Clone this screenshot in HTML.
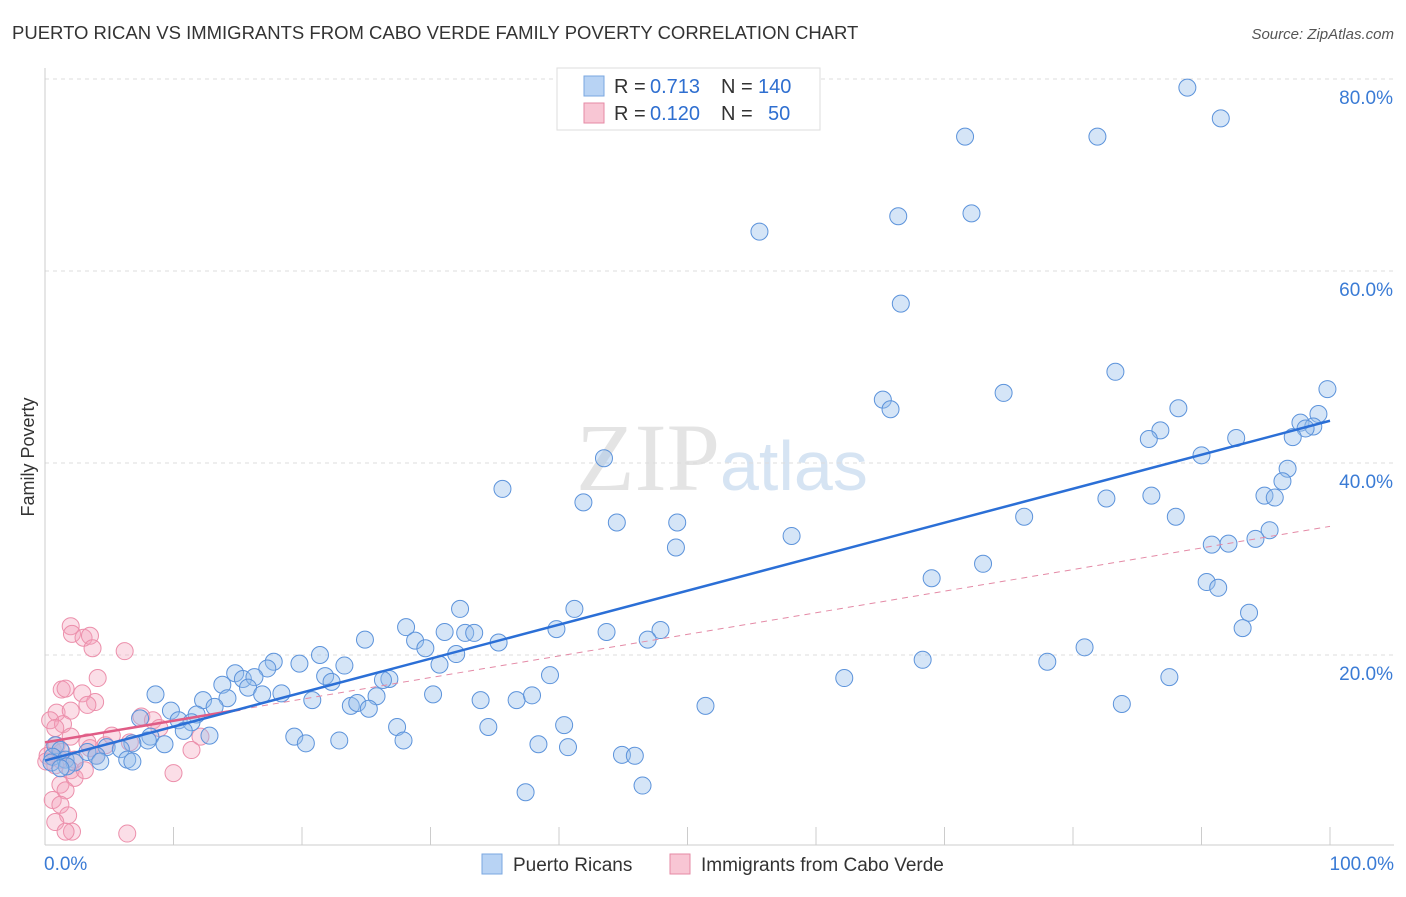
<!DOCTYPE html>
<html><head><meta charset="utf-8"><style>
body{margin:0;background:#fff;font-family:"Liberation Sans",sans-serif;}
svg text{font-family:"Liberation Sans",sans-serif;}
</style></head><body>
<svg width="1406" height="892" xmlns="http://www.w3.org/2000/svg">
<text x="12" y="39" font-size="18.5" fill="#333">PUERTO RICAN VS IMMIGRANTS FROM CABO VERDE FAMILY POVERTY CORRELATION CHART</text>
<text x="1394" y="39" font-size="15" fill="#555" font-style="italic" text-anchor="end">Source: ZipAtlas.com</text>
<text x="720" y="490" font-size="96" fill="#e4e4e4" text-anchor="end" style="font-family:'Liberation Serif',serif">ZIP</text>
<text x="720" y="490" font-size="70" fill="#d6e4f3">atlas</text>
<g id="grid"></g>
<g id="axes"></g>
<g id="pink"></g>
<g id="blue"></g>
<g id="trends"></g>
<text x="34" y="457" font-size="18" fill="#333" text-anchor="middle" transform="rotate(-90 34 457)">Family Poverty</text>
<g>
<rect x="557" y="68" width="263" height="62" fill="#fff" stroke="#ddd"/>
<rect x="584" y="76" width="20" height="20" fill="#b8d3f4" stroke="#7aa7e0"/>
<text x="614" y="93" font-size="20" fill="#333">R =</text>
<text x="650" y="93" font-size="20" fill="#2f6fd0">0.713</text>
<text x="721" y="93" font-size="20" fill="#333">N =</text>
<text x="758" y="93" font-size="20" fill="#2f6fd0">140</text>
<rect x="584" y="103" width="20" height="20" fill="#f8c6d4" stroke="#e68aa5"/>
<text x="614" y="120" font-size="20" fill="#333">R =</text>
<text x="650" y="120" font-size="20" fill="#2f6fd0">0.120</text>
<text x="721" y="120" font-size="20" fill="#333">N =</text>
<text x="768" y="120" font-size="20" fill="#2f6fd0">50</text>
</g>
<g>
<rect x="482" y="854" width="20" height="20" fill="#b8d3f4" stroke="#7aa7e0"/>
<text x="513" y="871" font-size="19" fill="#333">Puerto Ricans</text>
<rect x="670" y="854" width="20" height="20" fill="#f8c6d4" stroke="#e68aa5"/>
<text x="701" y="871" font-size="19" fill="#333">Immigrants from Cabo Verde</text>
</g>
</svg>
<script>
const blueX=[88.9,91.5,71.6,81.9,66.4,72.1,55.6,66.6,99.8,83.3,74.6,65.2,65.8,88.2,99.1,97.7,98.7,98.1,97.1,86.8,85.9,92.7,90.0,43.5,96.7,96.3,94.9,95.7,86.1,82.6,35.6,41.9,44.5,49.2,76.2,88.0,95.3,94.2,92.1,90.8,49.1,58.1,73.0,69.0,90.4,91.3,93.7,93.2,32.3,41.2,28.1,31.1,32.7,33.4,39.8,43.7,47.9,46.9,24.9,28.8,29.6,32.0,35.3,80.9,78.0,68.3,17.8,19.8,21.4,23.3,30.7,17.3,14.8,15.4,16.3,21.8,22.3,26.8,26.3,39.3,62.2,87.5,13.8,15.8,16.9,18.4,8.6,12.3,14.2,20.8,25.8,30.2,33.9,36.7,37.9,23.8,24.3,25.2,9.8,11.8,13.2,51.4,83.8,7.4,10.4,11.4,27.4,34.5,40.4,10.8,12.8,19.4,22.9,27.9,8.2,8.0,9.3,6.8,4.8,5.9,38.4,40.7,20.3,44.9,45.9,3.3,4.0,6.4,0.8,1.2,0.6,1.6,2.3,0.5,1.7,1.2,4.3,46.5,37.4,6.8];
const blueY=[79.1,75.9,74.0,74.0,65.7,66.0,64.1,56.6,47.7,49.5,47.3,46.6,45.6,45.7,45.1,44.2,43.8,43.6,42.7,43.4,42.5,42.6,40.8,40.5,39.4,38.1,36.6,36.4,36.6,36.3,37.3,35.9,33.8,33.8,34.4,34.4,33.0,32.1,31.6,31.5,31.2,32.4,29.5,28.0,27.6,27.0,24.4,22.8,24.8,24.8,22.9,22.4,22.3,22.3,22.7,22.4,22.6,21.6,21.6,21.5,20.7,20.1,21.3,20.8,19.3,19.5,19.3,19.1,20.0,18.9,19.0,18.6,18.1,17.5,17.7,17.8,17.2,17.5,17.4,17.9,17.6,17.7,16.9,16.6,15.9,16.0,15.9,15.3,15.5,15.3,15.7,15.9,15.3,15.3,15.8,14.7,15.0,14.4,14.2,13.8,14.6,14.7,14.9,13.4,13.2,13.0,12.5,12.5,12.7,12.1,11.6,11.5,11.1,11.1,11.5,11.1,10.7,10.8,10.4,10.2,10.7,10.4,10.8,9.6,9.5,9.9,9.5,9.1,10.6,10.1,9.4,9.1,8.8,8.8,8.4,8.2,8.9,6.4,5.7,8.9];
const pinkX=[2.0,2.1,3.0,3.5,3.7,6.2,4.1,1.3,1.6,2.9,3.9,3.3,0.9,2.0,7.5,8.4,0.4,1.4,0.8,2.0,3.3,6.6,12.1,4.7,3.5,11.4,0.6,0.2,1.2,2.3,0.8,2.0,2.3,10.0,1.2,1.6,0.6,1.2,1.8,0.8,2.1,1.6,6.4,0.9,1.3,0.1,3.1,4.0,5.2,8.9];
const pinkY=[23.0,22.2,21.8,22.0,20.7,20.4,17.6,16.4,16.5,16.0,15.1,14.8,14.0,14.2,13.6,13.2,13.2,12.8,12.4,11.5,10.9,10.9,11.5,10.6,10.3,10.1,10.1,9.5,9.1,9.1,8.5,8.0,7.2,7.7,6.5,5.9,4.9,4.4,3.3,2.6,1.6,1.6,1.4,10.6,9.9,8.9,8.0,9.5,11.6,12.4];
const yTicks=[20,40,60,80];
const blueTrend=[9.0,44.4];
const pinkTrend=[10.9,33.4];
const pinkSolidEnd=15.2;
const NS="http://www.w3.org/2000/svg";
const sx=v=>45+v*12.85, sy=v=>847-v*9.6;
function mk(tag,attrs,parent){const e=document.createElementNS(NS,tag);for(const k in attrs)e.setAttribute(k,attrs[k]);document.getElementById(parent).appendChild(e);return e;}
yTicks.forEach(t=>{
 const l=mk('line',{x1:45,x2:1394,y1:sy(t),y2:sy(t),stroke:'#ddd','stroke-dasharray':'4,4'},'grid');
 
 
 const tx=mk('text',{x:1393,y:sy(t)+25,'font-size':19,fill:'#3a7bd5','text-anchor':'end'},'grid');
 tx.textContent=t.toFixed(1)+'%';
 
 
});
mk('line',{x1:45,x2:45,y1:68,y2:845,stroke:'#ccc'},'axes');
mk('line',{x1:45,x2:1394,y1:845,y2:845,stroke:'#ccc'},'axes');
for(let i=1;i<=10;i++)mk('line',{x1:sx(i*10),x2:sx(i*10),y1:827,y2:845,stroke:'#ccc'},'axes');
const t0=mk('text',{x:44,y:870,'font-size':19,fill:'#3a7bd5'},'axes');t0.textContent='0.0%';


const t1=mk('text',{x:1394,y:870,'font-size':19,fill:'#3a7bd5','text-anchor':'end'},'axes');t1.textContent='100.0%';


pinkX.forEach((x,i)=>{
 const c=mk('circle',{cx:sx(x),cy:sy(pinkY[i]),r:8.5,fill:'rgba(244,160,185,0.35)',stroke:'#ec8fab','stroke-width':1},'pink');
 
 
});
blueX.forEach((x,i)=>{
 const c=mk('circle',{cx:sx(x),cy:sy(blueY[i]),r:8.5,fill:'rgba(150,190,235,0.4)',stroke:'#5c93db','stroke-width':1},'blue');
 
 
});
const pAt=x=>pinkTrend[0]+(pinkTrend[1]-pinkTrend[0])*x/100;
const pd=mk('line',{x1:sx(pinkSolidEnd),y1:sy(pAt(pinkSolidEnd)),x2:sx(100),y2:sy(pinkTrend[1]),stroke:'#e48aa6','stroke-width':1,'stroke-dasharray':'6,5'},'trends');


const ps=mk('line',{x1:sx(0),y1:sy(pinkTrend[0]),x2:sx(pinkSolidEnd),y2:sy(pAt(pinkSolidEnd)),stroke:'#e05c86','stroke-width':2.5},'trends');


const bl=mk('line',{x1:sx(0),y1:sy(blueTrend[0]),x2:sx(100),y2:sy(blueTrend[1]),stroke:'#2b6fd6','stroke-width':2.5},'trends');


</script>
</body></html>
